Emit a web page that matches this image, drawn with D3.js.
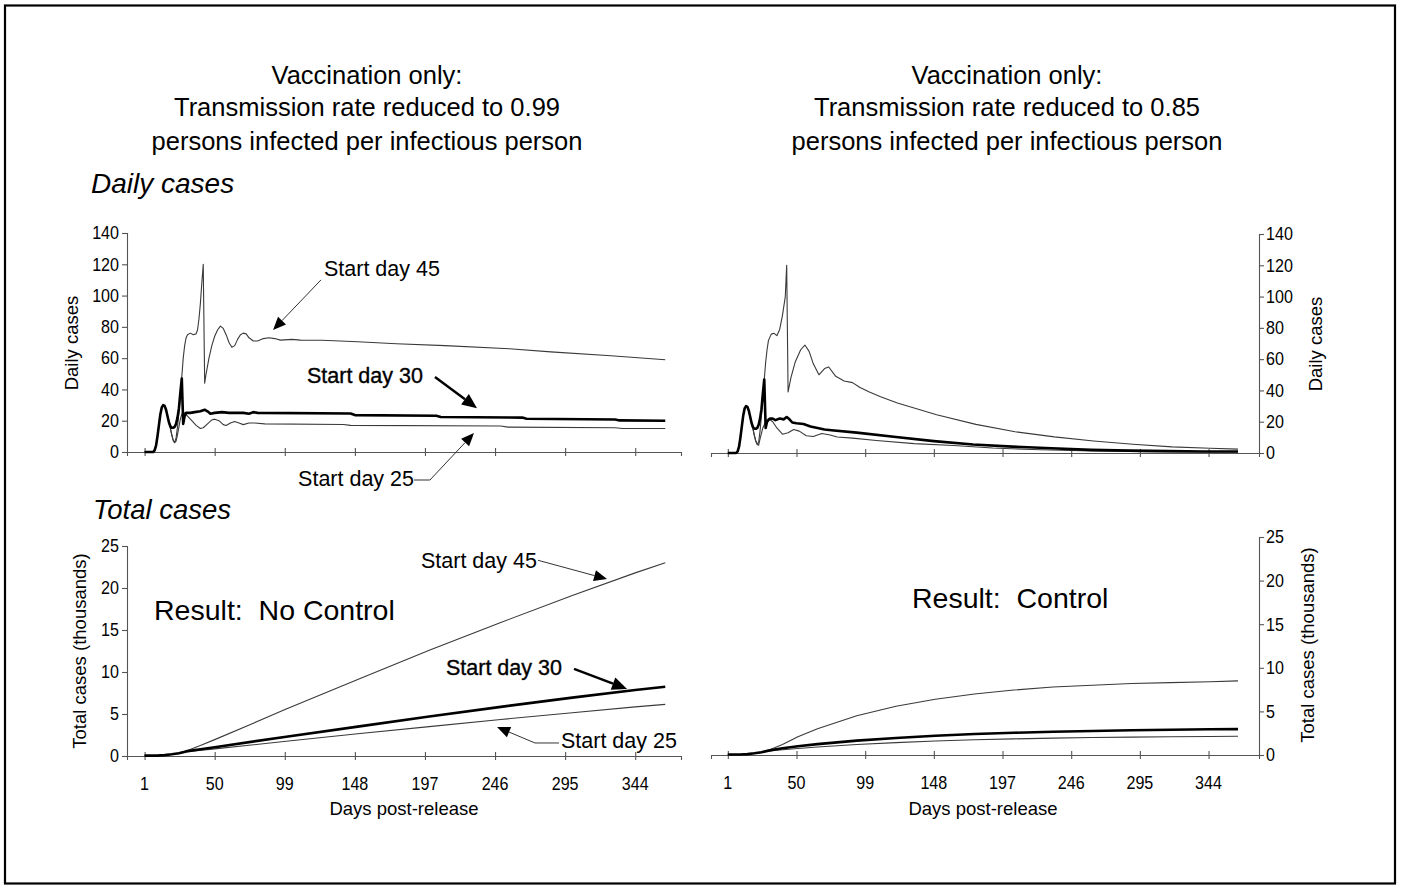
<!DOCTYPE html>
<html><head><meta charset="utf-8">
<script src="https://cdn.jsdelivr.net/npm/d3@7"></script>
<style>
body{margin:0;background:#fff}
svg{display:block}
text{font-family:Arial,"Liberation Sans",sans-serif;fill:#000}
</style>
</head><body>
<svg id="c" width="1401" height="888"></svg>
<script>
// ---------- data ----------
const xTickDays = [1, 50, 99, 148, 197, 246, 295, 344];
const dailyTicks = [0, 20, 40, 60, 80, 100, 120, 140];
const totalTicks = [0, 5, 10, 15, 20, 25];

const titleLeft = ["Vaccination only:", "Transmission rate reduced to 0.99", "persons infected per infectious person"];
const titleRight = ["Vaccination only:", "Transmission rate reduced to 0.85", "persons infected per infectious person"];

// daily cases, R = 0.99  [day, cases]
const dailyL45 = [[1,0],[7,0],[8,1],[9,4],[10,10],[11,17],[12,24],[13,28.5],[14,30],[15,29.5],[16,27],[17,23],[18,19],[19,15.5],[20,11],[21,7.5],[22,6],[23,9],[24,16],[25,25],[26,36],[27,48],[28,60],[29,68],[30,73],[31,75],[33,76],[35,75],[37,75.5],[38,78],[39,85],[40,95],[41,108],[42,120],[43,44],[44,50],[46,60],[48,68],[50,74],[52,78],[54,80.5],[56,79],[58,75],[60,70],[62,67],[64,68],[66,72],[68,75],[70,76],[72,75.5],[74,73],[77,71],[80,71],[84,72.5],[88,73],[92,72.5],[96,71.5],[104,72],[110,71.5],[125,71.4],[150,70.5],[177,69.2],[211,68],[256,66],[285,64],[327,61.5],[365,59]];
const dailyL30 = [[1,0],[7,0],[8,1],[9,4],[10,10],[11,17],[12,24],[13,28.5],[14,30],[15,29.5],[16,27],[17,23],[18,19],[19,16.5],[20,15.5],[21,15.5],[22,16],[23,18],[24,22],[25,28],[26,38],[27,47],[28,18],[29,23],[30,25],[33,25],[36,25.5],[40,26],[43,27],[45,26],[47,24.5],[50,25],[55,25.5],[60,25],[70,25],[74,24.5],[77,25.5],[80,25],[145,24.6],[148,23.6],[205,23.2],[208,22.4],[265,22],[268,21.3],[330,20.8],[333,20.2],[365,20]];
const dailyL25 = [[1,0],[7,0],[8,1],[9,4],[10,10],[11,17],[12,24],[13,28.5],[14,30],[15,29.5],[16,27],[17,23],[18,19],[19,15],[20,11],[21,7.5],[22,6],[23,7],[24,11],[25,16],[26,21],[27,24],[28,25],[29,25],[31,23],[34,20],[37,17],[40,15],[42,15.5],[45,18],[48,20.5],[50,21],[53,20],[56,17.5],[58,17],[61,18.5],[64,19.5],[67,18.5],[70,17.5],[74,18.5],[78,18.5],[85,18],[140,17.6],[145,17],[250,16.6],[255,15.9],[330,15.5],[335,15],[365,15]];

// daily cases, R = 0.85
const dailyR45 = [[1,0],[7,0],[8,1],[9,4],[10,10],[11,17],[12,24],[13,28.5],[14,30],[15,29.5],[16,27],[17,23],[18,19],[19,15.5],[20,11],[21,7.5],[22,5.5],[23,7],[24,14],[25,24],[26,35],[27,47],[28,58],[29,66],[30,72],[32,76],[34,76.5],[36,75],[38,79],[40,88],[42,100],[43,120],[44,39],[46,48],[49,58],[53,66],[56,69],[59,65],[62,57],[66,50],[70,54],[73,55],[78,49],[84,46],[90,45],[95,42],[102,39],[110,36],[122,32],[150,24.5],[178,18.3],[206,13.6],[234,10.3],[262,7.7],[290,5.6],[318,3.9],[345,3],[365,2.5]];
const dailyR30 = [[1,0],[7,0],[8,1],[9,4],[10,10],[11,17],[12,24],[13,28.5],[14,30],[15,29.5],[16,27],[17,23],[18,19],[19,16.5],[20,15.5],[21,15.5],[22,16],[23,18],[24,22],[25,28],[26,38],[27,47],[28,16],[29,20],[31,22],[33,22],[35,21],[38,22],[41,21.5],[43,23],[45,21.5],[47,19.5],[50,19],[55,18.5],[60,17],[65,16],[70,15],[75,14.5],[93,13],[121,10.2],[148,7.6],[176,5.4],[204,4.1],[232,3],[260,2],[288,1.5],[316,1.2],[340,1],[365,1]];
const dailyR25 = [[1,0],[7,0],[8,1],[9,4],[10,10],[11,17],[12,24],[13,28.5],[14,30],[15,29.5],[16,27],[17,23],[18,19],[19,15],[20,11],[21,7.5],[22,5.5],[23,5],[24,9],[26,16],[28,20],[30,22],[33,20],[36,16],[40,12],[44,13],[48,15],[52,14],[57,11],[62,10.5],[68,12.5],[74,11.5],[79,10.2],[90,9.5],[107,8],[134,6],[162,4.8],[190,3.2],[218,2.2],[260,1.3],[300,0.9],[365,0.6]];

// total cases (thousands)
const totalL45 = [[1,0.05],[10,0.05],[15,0.1],[20,0.2],[25,0.35],[30,0.6],[40,1.25],[50,1.95],[75,3.75],[100,5.6],[150,9.1],[200,12.6],[250,15.9],[300,19.1],[344,21.8],[365,23]];
const totalL30 = [[1,0.05],[10,0.05],[15,0.1],[20,0.2],[25,0.32],[30,0.55],[50,1.05],[100,2.3],[150,3.5],[200,4.7],[250,5.85],[300,6.95],[344,7.85],[365,8.25]];
const totalL25 = [[1,0.05],[10,0.05],[15,0.1],[20,0.2],[25,0.3],[30,0.5],[50,0.85],[100,1.75],[150,2.65],[200,3.5],[250,4.35],[300,5.15],[344,5.85],[365,6.15]];
const totalR45 = [[1,0.05],[10,0.05],[15,0.1],[20,0.2],[25,0.33],[30,0.55],[40,1.2],[51,2.1],[65,3.0],[93,4.5],[121,5.6],[149,6.4],[177,7.0],[205,7.45],[233,7.8],[261,8.0],[289,8.2],[317,8.3],[345,8.4],[365,8.5]];
const totalR30 = [[1,0.05],[10,0.05],[15,0.1],[20,0.2],[25,0.32],[30,0.5],[40,0.78],[51,1.0],[65,1.25],[93,1.65],[121,1.95],[149,2.2],[177,2.4],[205,2.55],[233,2.67],[261,2.76],[289,2.83],[317,2.9],[345,2.95],[365,2.97]];
const totalR25 = [[1,0.05],[10,0.05],[15,0.1],[20,0.2],[25,0.3],[30,0.45],[40,0.6],[51,0.75],[65,0.92],[93,1.2],[121,1.42],[149,1.6],[177,1.75],[205,1.85],[233,1.93],[261,2.0],[289,2.05],[317,2.1],[345,2.12],[365,2.15]];

// annotations (in data units of their panel)
const notesDailyL = [
  {label: "Start day 45", at: [126.4, 112.5], path: [[124.3, 110], [90.8, 78]], thick: false},
  {label: "Start day 30", at: [114.5, 44.1], path: [[204, 48], [233.4, 28]], thick: true},
  {label: "Start day 25", at: [108.3, -21.7], path: [[189.4, -17.9], [200.5, -17.9], [231.3, 12.1]], thick: false}
];
const notesTotalL = [
  {label: "Start day 45", at: [194.2, 22.38], path: [[276, 23.3], [324.3, 21.07]], thick: false},
  {label: "Start day 30", at: [211.7, 9.64], path: [[301.2, 10.36], [338.3, 7.98]], thick: true},
  {label: "Start day 25", at: [292.1, 0.95], path: [[290.7, 1.55], [273.9, 1.55], [247.4, 3.45]], thick: false}
];
const resultL = {label: "Result:  No Control", at: [7.6, 16.2]};
const resultR = {label: "Result:  Control", at: [132.4, 16.9]};

// ---------- drawing ----------
const svg = d3.select("#c");
svg.append("rect").attr("x", 5).attr("y", 5.5).attr("width", 1390).attr("height", 878)
  .attr("fill", "#fff").attr("stroke", "#000").attr("stroke-width", 2.2);

function txt(x, y, s, size, o = {}) {
  let tr = `translate(${x},${y})`;
  if (o.rotate) tr += ` rotate(${o.rotate})`;
  if (o.sx) tr += ` scale(${o.sx},1)`;
  const t = svg.append("text").attr("transform", tr)
    .attr("text-anchor", o.anchor || "start")
    .style("font-size", size + "px").style("white-space", "pre").text(s);
  if (o.italic) t.style("font-style", "italic");
  if (o.bold) t.style("stroke", "#000").style("stroke-width", 0.35);
  return t;
}

const xL = d3.scaleLinear().domain([-11.3, 376]).range([127, 681]);
const xR = d3.scaleLinear().domain([-11, 380]).range([711, 1259]);
const yLD = d3.scaleLinear().domain([0, 140]).range([452, 233]);
const yRD = d3.scaleLinear().domain([0, 140]).range([453, 234]);
const yLT = d3.scaleLinear().domain([0, 25]).range([756, 546]);
const yRT = d3.scaleLinear().domain([0, 25]).range([755, 537]);

const AX = "#555";
const TICK_FS = 17.5, TICK_SX = 0.92;
function axes(x, y, side, yTicks, xLabels) {
  const g = svg.append("g");
  const gx = g.append("g").attr("transform", `translate(0,${y(0)})`)
    .call(d3.axisBottom(x).tickValues(xTickDays).tickFormat("").tickSizeOuter(0).tickSize(4));
  gx.selectAll(".tick line").attr("y1", -4).attr("y2", 4);
  const ax = side === "left" ? d3.axisLeft(y) : d3.axisRight(y);
  const xp = side === "left" ? x.range()[0] : x.range()[1];
  g.append("g").attr("transform", `translate(${xp},0)`)
    .call(ax.tickValues(yTicks).tickFormat("").tickSizeOuter(0).tickSize(5));
  g.selectAll(".domain,.tick line").attr("stroke", AX).attr("stroke-width", 1.1);
  yTicks.forEach(v => {
    if (side === "left") txt(xp - 8, y(v) + 6.3, String(v), TICK_FS, {anchor: "end", sx: TICK_SX});
    else txt(xp + 7, y(v) + 6.3, String(v), TICK_FS, {anchor: "start", sx: TICK_SX});
  });
  if (xLabels) xTickDays.forEach(d => txt(x(d), y(0) + 34, String(d), TICK_FS, {anchor: "middle", sx: TICK_SX}));
}

function lines(x, y, s45, s30, s25) {
  const ln = d3.line().x(d => x(d[0])).y(d => y(d[1]));
  [s45, s25].forEach(s => svg.append("path").attr("d", ln(s)).attr("fill", "none")
    .attr("stroke", "#3a3a3a").attr("stroke-width", 1.1).attr("stroke-linejoin", "round"));
  svg.append("path").attr("d", ln(s30)).attr("fill", "none")
    .attr("stroke", "#000").attr("stroke-width", 2.6).attr("stroke-linejoin", "round");
}

function arrow(x, y, n) {
  const pts = n.path.map(p => [x(p[0]), y(p[1])]);
  const L = n.thick ? 15 : 13, W = n.thick ? 6.5 : 5.5;
  const a = pts[pts.length - 2], b = pts[pts.length - 1];
  const dx = b[0] - a[0], dy = b[1] - a[1], len = Math.hypot(dx, dy);
  const ux = dx / len, uy = dy / len;
  const base = [b[0] - ux * L, b[1] - uy * L];
  const linePts = pts.slice(0, -1).concat([base]);
  svg.append("path").attr("d", d3.line()(linePts)).attr("fill", "none")
    .attr("stroke", n.thick ? "#000" : "#333").attr("stroke-width", n.thick ? 2.4 : 1);
  svg.append("path").attr("d", d3.line()([b, [base[0] - uy * W, base[1] + ux * W], [base[0] + uy * W, base[1] - ux * W], b]) + "Z")
    .attr("fill", "#000");
  txt(x(n.at[0]), y(n.at[1]), n.label, 21.5, {bold: n.thick});
}

// titles
titleLeft.forEach((t, i) => txt(367, [84, 116, 150][i], t, 25.5, {anchor: "middle"}));
titleRight.forEach((t, i) => txt(1007, [84, 116, 150][i], t, 25.5, {anchor: "middle"}));
txt(91, 193, "Daily cases", 28, {italic: true});
txt(93, 519, "Total cases", 27.5, {italic: true});

// panels
axes(xL, yLD, "left", dailyTicks, false);
axes(xR, yRD, "right", dailyTicks, false);
axes(xL, yLT, "left", totalTicks, true);
axes(xR, yRT, "right", totalTicks, true);

lines(xL, yLD, dailyL45, dailyL30, dailyL25);
lines(xR, yRD, dailyR45, dailyR30, dailyR25);
lines(xL, yLT, totalL45, totalL30, totalL25);
lines(xR, yRT, totalR45, totalR30, totalR25);

notesDailyL.forEach(n => arrow(xL, yLD, n));
notesTotalL.forEach(n => arrow(xL, yLT, n));
txt(xL(resultL.at[0]), yLT(resultL.at[1]), resultL.label, 28.5);
txt(xR(resultR.at[0]), yRT(resultR.at[1]), resultR.label, 28.5);

// axis titles
txt(78, 343, "Daily cases", 18.5, {rotate: -90, anchor: "middle"});
txt(1322, 344, "Daily cases", 18.5, {rotate: -90, anchor: "middle"});
txt(86, 651, "Total cases (thousands)", 18.5, {rotate: -90, anchor: "middle"});
txt(1314, 645, "Total cases (thousands)", 18.5, {rotate: -90, anchor: "middle"});
txt(404, 815, "Days post-release", 18.5, {anchor: "middle"});
txt(983, 815, "Days post-release", 18.5, {anchor: "middle"});
</script>
</body></html>
